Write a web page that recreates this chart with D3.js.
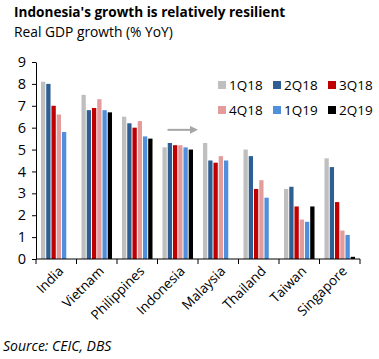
<!DOCTYPE html>
<html>
<head>
<meta charset="utf-8">
<script src="https://cdn.jsdelivr.net/npm/d3@7"></script>
<style>
	body { margin: 0; background: #fff; }
	svg { display: block; font-family: "Open Sans", sans-serif; }
</style>
</head>
<body>
<div id="chart"></div>
<script>
const countries = ["India", "Vietnam", "Philippines", "Indonesia", "Malaysia", "Thailand", "Taiwan", "Singapore"];
const quarters = ["1Q18", "2Q18", "3Q18", "4Q18", "1Q19", "2Q19"];
const colors = ["#bfbfbf", "#2f5f92", "#c00000", "#e39c9c", "#4f8fdb", "#000000"];
/* one array per quarter, null where no figure was out yet */
const q1_18 = [8.1, 7.5, 6.5, 5.1, 5.3, 5.0, 3.2, 4.6];
const q2_18 = [8.0, 6.8, 6.2, 5.3, 4.5, 4.7, 3.3, 4.2];
const q3_18 = [7.0, 6.9, 6.0, 5.2, 4.4, 3.2, 2.4, 2.6];
const q4_18 = [6.6, 7.3, 6.3, 5.2, 4.7, 3.6, 1.8, 1.3];
const q1_19 = [5.8, 6.8, 5.6, 5.1, 4.5, 2.8, 1.7, 1.1];
const q2_19 = [null, 6.7, 5.5, 5.0, null, null, 2.4, 0.1];
const series = [q1_18, q2_18, q3_18, q4_18, q1_19, q2_19];
const yTicks = [0, 1, 2, 3, 4, 5, 6, 7, 8, 9];

const width = 379, height = 359;
const margin = { left: 36, right: 19, top: 62, bottom: 100 };

const svg = d3.select("#chart").append("svg")
	.attr("width", width)
	.attr("height", height);

/* titles */
svg.append("text")
	.attr("x", 14).attr("y", 17)
	.style("font-size", "13.6px").style("font-weight", "bold")
	.text("Indonesia's growth is relatively resilient");
svg.append("text")
	.attr("x", 14).attr("y", 37)
	.style("font-size", "13.8px")
	.text("Real GDP growth (% YoY)");

const x = d3.scaleBand()
	.domain(countries)
	.range([margin.left, width - margin.right])
	.paddingInner(0.2)
	.paddingOuter(0.1);

const xSub = d3.scaleBand()
	.domain(d3.range(quarters.length))
	.range([0, x.bandwidth()])
	.padding(0.18);

const y = d3.scaleLinear()
	.domain([0, 9])
	.range([height - margin.bottom, margin.top]);

/* bars */
series.forEach((vals, i) => {
	svg.append("g")
		.selectAll("rect")
		.data(countries.map((c, j) => ({ c, v: vals[j] })).filter(d => d.v != null))
		.enter()
			.append("rect")
				.attr("x", d => x(d.c) + xSub(i))
				.attr("y", d => y(d.v))
				.attr("width", xSub.bandwidth())
				.attr("height", d => y(0) - y(d.v))
				.style("fill", colors[i]);
});

/* y axis */
const yAxis = svg.append("g")
	.attr("transform", `translate(${margin.left},0)`)
	.call(d3.axisLeft(y).tickValues(yTicks).tickSize(4).tickSizeOuter(0).tickPadding(6));
yAxis.selectAll("line, path").style("stroke", "#000");
yAxis.selectAll("text").style("font-size", "14.5px").style("fill", "#000").style("font-family", "Open Sans");

/* x axis: ticks sit on the category boundaries */
const step = x.step();
const boundaries = d3.range(countries.length + 1).map(i => margin.left + i * step);
const xg = svg.append("g");
xg.append("line")
	.attr("x1", margin.left).attr("x2", width - margin.right)
	.attr("y1", y(0)).attr("y2", y(0))
	.style("stroke", "#000");
xg.selectAll(".tick")
	.data(boundaries)
	.enter()
		.append("line")
			.attr("x1", d => d).attr("x2", d => d)
			.attr("y1", y(0)).attr("y2", y(0) + 5)
			.style("stroke", "#000");
xg.selectAll(".lbl")
	.data(countries)
	.enter()
		.append("text")
			.attr("transform", d => `translate(${x(d) + x.bandwidth() / 2 + 8},${y(0) + 13}) rotate(-45)`)
			.attr("text-anchor", "end")
			.style("font-size", "13.5px")
			.text(d => d);

/* legend, two rows of three */
const legend = svg.append("g");
quarters.forEach((q, i) => {
	const col = i % 3, row = Math.floor(i / 3);
	const lx = 218 + col * 55, ly = 85 + row * 25;
	legend.append("rect")
		.attr("x", lx).attr("y", ly - 4)
		.attr("width", 8).attr("height", 8)
		.style("fill", colors[i]);
	legend.append("text")
		.attr("x", lx + 11).attr("y", ly + 5)
		.style("font-size", "13.5px")
		.text(q);
});

/* arrow next to Indonesia */
svg.append("defs").append("marker")
	.attr("id", "head")
	.attr("viewBox", "0 0 10 10")
	.attr("refX", 2).attr("refY", 5)
	.attr("markerWidth", 4).attr("markerHeight", 4)
	.attr("orient", "auto")
	.append("path")
		.attr("d", "M0,0 L10,5 L0,10 z")
		.style("fill", "#a6a6a6");
svg.append("line")
	.attr("x1", x("Indonesia") + 6).attr("x2", x("Indonesia") + 30)
	.attr("y1", y(5.9)).attr("y2", y(5.9))
	.style("stroke", "#a6a6a6").style("stroke-width", 2)
	.attr("marker-end", "url(#head)");

/* source */
svg.append("text")
	.attr("x", 3).attr("y", 351)
	.style("font-size", "14px").style("font-style", "italic")
	.text("Source: CEIC, DBS");
</script>
</body>
</html>
